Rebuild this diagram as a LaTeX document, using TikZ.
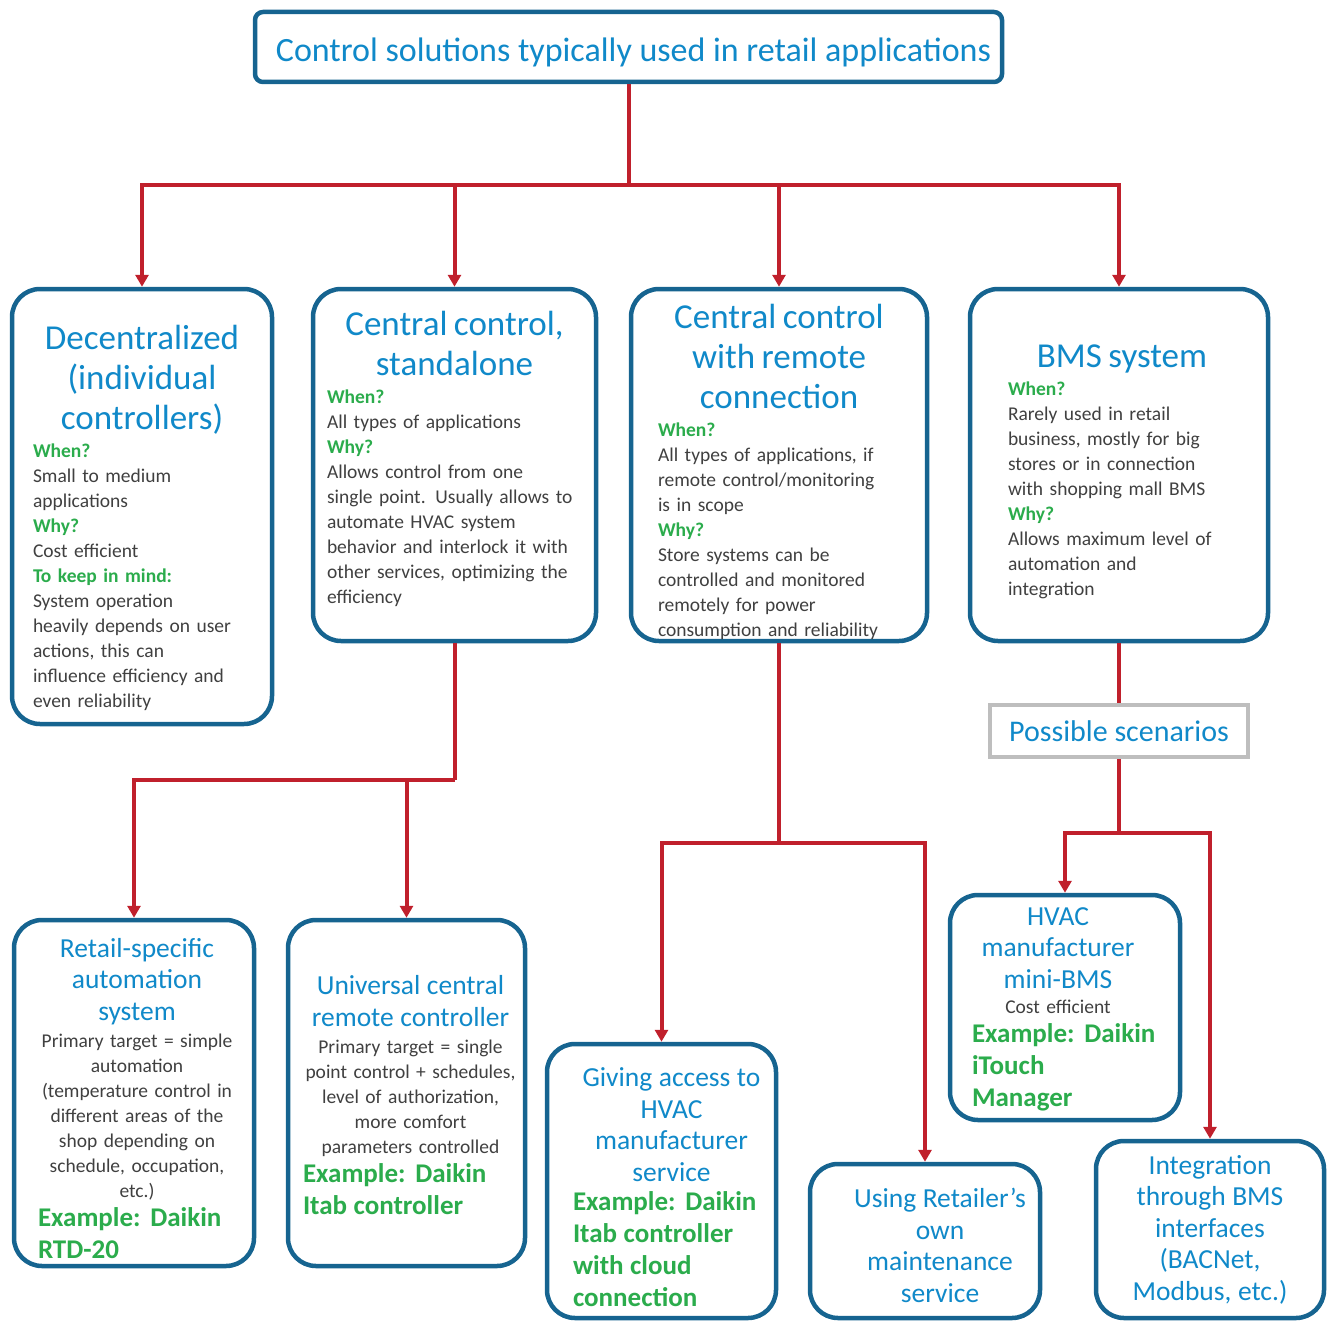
\documentclass[tikz,border=0pt]{standalone}
\usepackage{fontspec}
\setmainfont{Carlito}
\usepackage{xcolor}
\usetikzlibrary{positioning, arrows.meta}

\definecolor{boxblue}{RGB}{22,100,144}
\definecolor{titleblue}{RGB}{16,137,201}
\definecolor{cuegreen}{RGB}{43,172,76}
\definecolor{linkred}{RGB}{192,32,44}
\definecolor{bodygray}{RGB}{64,64,64}
\definecolor{framegray}{RGB}{190,190,190}

% lines may run a little past the text width instead of wrapping
\newdimen\textshift
\newcommand{\widecentre}{\centering
  \leftskip=\dimexpr-25pt+\textshift\relax plus 1fil
  \rightskip=\dimexpr-25pt-\textshift\relax plus 1fil\relax}
\newcommand{\nowrap}{\rightskip=-40pt plus 1fil\relax}
\newcommand{\topgap}[1]{\par\nointerlineskip\vspace*{#1}\nointerlineskip}
\newcommand{\bottomgap}[1]{\par\vspace*{#1}}
\newcommand{\boxhead}[2][3pt]{{\widecentre\color{titleblue}\fontsize{35}{40}\selectfont #2\par}\vspace{#1}}
\newcommand{\cue}[1]{{\color{cuegreen}\bfseries #1}}
\newcommand{\subhead}[2][2pt]{{\widecentre\color{titleblue}\fontsize{27.5}{31.5}\selectfont #2\par}\vspace{#1}}
\newcommand{\midtext}[1]{{\widecentre #1\par}}
\newcommand{\sample}[1]{\vspace{-2.5pt}{\color{cuegreen}\bfseries\fontsize{27}{32}\selectfont #1\par}}

\begin{document}
\begin{tikzpicture}[x=1pt, y=-1pt,
    box/.style={draw=boxblue, line width=4.5pt, rounded corners=28pt, fill=white,
      inner sep=0pt, align=left, text=bodygray, font=\fontsize{19.5}{25}\selectfont,
      execute at begin node=\nowrap},
    sink/.style={execute at begin node={\topgap{#1}}},
    lift/.style={execute at end node={\bottomgap{#1}}},
    shove/.style={execute at begin node={\textshift=#1\relax}},
    wire/.style={draw=linkred, line width=4pt},
    arrow/.style={wire, -{Triangle[length=12pt,width=13pt]}}]
    \useasboundingbox (0,0) rectangle (1328,1322);

    % top level
    \node[box, minimum width=747pt, minimum height=70pt, rounded corners=8pt,
          text height=32pt, text depth=3pt,
          text=titleblue, font=\fontsize{34}{40}\selectfont] (top) at (628.5,47)
        {\hspace*{10pt}Control solutions typically used in retail applications};

    % four families of solutions
    \node[box, minimum width=260pt, minimum height=435pt, text width=218pt, sink=22pt] (dec) at (142,506.5) {%
        \boxhead{Decentralized\\(individual\\controllers)}
        \cue{When?}\\
        Small to medium\\
        applications\\
        \cue{Why?}\\
        Cost efficient\\
        \cue{To keep in mind:}\\
        System operation\\
        heavily depends on user\\
        actions, this can\\
        influence efficiency and\\
        even reliability};
    \node[box, minimum width=283pt, minimum height=352pt, text width=255pt, lift=13pt] (cs) at (454.5,465) {%
        \boxhead{Central control,\\standalone}
        \cue{When?}\\
        All types of applications\\
        \cue{Why?}\\
        Allows control from one\\
        single point. Usually allows to\\
        automate HVAC system\\
        behavior and interlock it with\\
        other services, optimizing the\\
        efficiency};
    \node[box, minimum width=296pt, minimum height=352pt, text width=242pt, sink=14pt] (cr) at (779,465) {%
        \boxhead{Central control\\with remote\\connection}
        \cue{When?}\\
        All types of applications, if\\
        remote control/monitoring\\
        is in scope\\
        \cue{Why?}\\
        Store systems can be\\
        controlled and monitored\\
        remotely for power\\
        consumption and reliability};
    \node[box, minimum width=298pt, minimum height=352pt, text width=222pt, sink=13pt, shove=3pt] (bms) at (1119,465) {%
        \boxhead{BMS system}
        \cue{When?}\\
        Rarely used in retail\\
        business, mostly for big\\
        stores or in connection\\
        with shopping mall BMS\\
        \cue{Why?}\\
        Allows maximum level of\\
        automation and\\
        integration};

    \node[draw=framegray, line width=4pt, minimum width=258pt, minimum height=52pt,
          text=titleblue, font=\fontsize{30}{34}\selectfont] (scen) at (1119,731) {Possible scenarios};

    % second level
    \node[box, minimum width=240pt, minimum height=346pt, text width=192pt, sink=11pt, shove=3pt] (rs) at (134,1093) {%
        \subhead{Retail-specific\\automation\\system}
        \midtext{Primary target = simple\\automation\\(temperature control in\\different areas of the\\shop depending on\\schedule, occupation,\\etc.)}
        \sample{Example: Daikin\\RTD-20}};
    \node[box, minimum width=237pt, minimum height=346pt, text width=207pt, sink=5pt, shove=4pt] (uc) at (406.5,1093) {%
        \subhead{Universal central\\remote controller}
        \midtext{Primary target = single\\point control + schedules,\\level of authorization,\\more comfort\\parameters controlled}
        \sample{Example: Daikin\\Itab controller}};
    \node[box, minimum width=229pt, minimum height=274pt, text width=177pt, sink=13pt, shove=10pt] (ga) at (661.5,1181) {%
        \subhead[0pt]{Giving access to\\HVAC\\manufacturer\\service}
        \sample{Example: Daikin\\Itab controller\\with cloud\\connection}};
    \node[box, minimum width=230pt, minimum height=154pt, text width=200pt, sink=9pt, shove=15pt] (ur) at (925,1241) {%
        \subhead[0pt]{Using Retailer’s\\own\\maintenance\\service}};
    \node[box, minimum width=230pt, minimum height=225pt, text width=186pt, sink=4pt, shove=-7pt] (mb) at (1065,1007.5) {%
        \subhead[0pt]{HVAC\\manufacturer\\mini-BMS}
        \midtext{Cost efficient}
        \sample{Example: Daikin\\iTouch\\Manager}};
    \node[box, minimum width=228pt, minimum height=177pt, text width=200pt] (ib) at (1210,1229.5) {%
        \subhead[0pt]{Integration\\through BMS\\interfaces\\(BACNet,\\Modbus, etc.)}};

    % connectors
    \coordinate (j0) at (628.5,185);
    \coordinate (j1) at (454.5,780);
    \coordinate (j2) at (779,843);
    \coordinate (j3) at (1119,833);

    \draw[wire] (top) -- (j0);
    \draw[arrow] (j0) -| (dec);
    \draw[arrow] (j0) -| (cs);
    \draw[arrow] (j0) -| (cr);
    \draw[arrow] (j0) -| (bms);

    \draw[wire] (cs) -- (j1);
    \draw[arrow] (j1) -| (rs);
    \draw[arrow] (j1) -| (uc);

    \draw[wire] (cr) -- (j2);
    \draw[arrow] (j2) -| (ga);
    \draw[arrow] (j2) -| (ur);

    \draw[wire] (bms) -- (scen);
    \draw[wire] (scen) -- (j3);
    \draw[arrow] (j3) -| (mb);
    \draw[arrow] (j3) -| (ib);
\end{tikzpicture}
\end{document}
